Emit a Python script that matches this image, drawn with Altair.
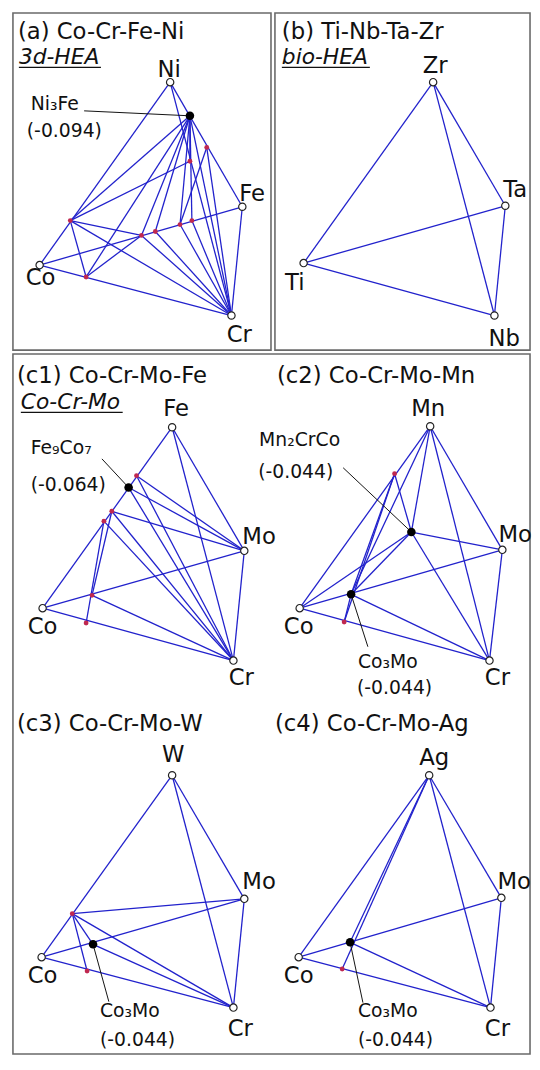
import altair as alt
import pandas as pd

# ---------------- node data (projected tetrahedron coordinates) ----------------
a_names = ["Ni", "Fe", "Co", "Cr", "NF", "R1", "R2", "R3", "R4", "R5", "R6", "R7", "R8"]
a_x = [172, 245, 40, 234, 192, 71, 87, 192, 209, 143, 157, 182, 194]
a_y = [77, 203, 262, 313, 111, 217, 274, 157, 143, 232, 228, 221, 217]
a_kind = ["v", "v", "v", "v", "b", "r", "r", "r", "r", "r", "r", "r", "r"]
a_edges = ["Ni-Co", "Co-Cr", "Cr-Fe", "Fe-Ni", "Ni-Cr", "Co-Fe",
           "NF-R1", "NF-R2", "NF-R5", "NF-R6", "NF-R7", "NF-R8", "NF-Cr", "NF-R3",
           "R1-R5", "R1-Cr", "R1-R2", "R1-R3", "R2-R5",
           "R5-Cr", "R6-Cr", "R7-Cr", "R8-Cr", "R4-R7", "R4-Cr"]

b_names = ["Zr", "Ta", "Ti", "Nb"]
b_x = [438, 511, 307, 500]
b_y = [77, 202, 260, 313]
b_kind = ["v", "v", "v", "v"]
b_edges = ["Zr-Ti", "Zr-Ta", "Zr-Nb", "Ta-Ti", "Ta-Nb", "Ti-Nb"]

c1_names = ["Fe", "Mo", "Co", "Cr", "F", "r1", "r2", "r3", "r4", "r5"]
c1_x = [174, 247, 43, 236, 130, 138, 113, 105, 93, 87]
c1_y = [426, 551, 609, 662, 487, 475, 511, 521, 596, 624]
c1_kind = ["v", "v", "v", "v", "b", "r", "r", "r", "r", "r"]
c1_edges = ["Fe-Co", "Fe-Mo", "Fe-Cr", "Co-Mo", "Co-Cr", "Mo-Cr",
            "r1-Mo", "r1-Cr", "F-Mo", "F-Cr", "r2-Mo", "r2-Cr", "r3-Cr",
            "r3-r5", "r2-r4", "r4-Cr"]

c2_names = ["Mn", "Mo", "Co", "Cr", "B1", "B2", "r1", "r2"]
c2_x = [435, 508, 303, 495, 416, 355, 399, 348]
c2_y = [425, 550, 609, 662, 532, 595, 473, 623]
c2_kind = ["v", "v", "v", "v", "b", "b", "r", "r"]
c2_edges = ["Mn-Co", "Mn-Mo", "Mn-Cr", "Mo-Cr", "Co-Mo", "Co-Cr",
            "Mn-B1", "Mn-B2", "r1-B1", "r1-B2", "r1-r2", "B1-Co", "B1-B2",
            "B1-Mo", "B1-Cr", "B2-Cr", "B2-r2"]

c3_names = ["W", "Mo", "Co", "Cr", "B", "r1", "r2"]
c3_x = [174, 247, 42, 236, 94, 73, 88]
c3_y = [778, 903, 962, 1013, 949, 918, 976]
c3_kind = ["v", "v", "v", "v", "b", "r", "r"]
c3_edges = ["W-Co", "W-Mo", "W-Cr", "Mo-Cr", "Co-Mo", "Co-Cr",
            "r1-Mo", "r1-Cr", "r1-r2", "r1-B", "B-Cr"]

c4_names = ["Ag", "Mo", "Co", "Cr", "B", "r"]
c4_x = [434, 507, 302, 496, 354, 346]
c4_y = [778, 902, 962, 1013, 947, 974]
c4_kind = ["v", "v", "v", "v", "b", "r"]
c4_edges = ["Ag-Co", "Ag-Mo", "Ag-Cr", "Mo-Cr", "Co-Mo", "Co-Cr",
            "Ag-B", "Ag-r", "B-Cr"]

# ---------------- text data ----------------
title_text = ["(a) Co-Cr-Fe-Ni", "(b) Ti-Nb-Ta-Zr", "(c1) Co-Cr-Mo-Fe",
              "(c2) Co-Cr-Mo-Mn", "(c3) Co-Cr-Mo-W", "(c4) Co-Cr-Mo-Ag"]
title_x = [18, 285, 17, 280, 17, 278]
title_y = [33, 33, 381, 381, 733, 733]

tag_text = ["3d-HEA", "bio-HEA", "Co-Cr-Mo"]
tag_x = [19, 285, 21]
tag_y = [59, 59, 408]
tag_w = [83, 89, 103]

vlab_text = ["Ni", "Fe", "Co", "Cr", "Zr", "Ta", "Ti", "Nb",
             "Fe", "Mo", "Co", "Cr", "Mn", "Mo", "Co", "Cr",
             "W", "Mo", "Co", "Cr", "Ag", "Mo", "Co", "Cr"]
vlab_x = [171, 255, 41, 242, 440, 521, 298, 510,
          178, 262, 43, 244, 433, 521, 302, 503,
          175, 262, 43, 243, 439, 520, 302, 503]
vlab_y = [72, 197, 282, 340, 68, 193, 287, 344,
          415, 544, 635, 687, 415, 542, 635, 687,
          765, 893, 988, 1042, 768, 893, 988, 1042]

cmp_text = ["Ni₃Fe", "(-0.094)", "Fe₉Co₇", "(-0.064)", "Mn₂CrCo", "(-0.044)",
            "Co₃Mo", "(-0.044)", "Co₃Mo", "(-0.044)", "Co₃Mo", "(-0.044)"]
cmp_x = [31, 27, 31, 31, 262, 261, 362, 361, 101, 101, 362, 362]
cmp_y = [105, 132, 453, 490, 445, 477, 670, 696, 1023, 1052, 1023, 1052]

# leader lines: label anchor -> phase point
lead_x = [85, 103, 347, 372, 110, 367]
lead_y = [106, 458, 467, 648, 1007, 1008]
lead_to = [("a", "NF"), ("c1", "F"), ("c2", "B1"), ("c2", "B2"), ("c3", "B"), ("c4", "B")]

# panel frames
frame_x = [13, 278, 13]
frame_x2 = [274, 536, 536]
frame_y = [7, 7, 352]
frame_y2 = [348, 348, 1060]

# ---------------- build tables ----------------
panels = {
    "a": (a_names, a_x, a_y, a_kind, a_edges),
    "b": (b_names, b_x, b_y, b_kind, b_edges),
    "c1": (c1_names, c1_x, c1_y, c1_kind, c1_edges),
    "c2": (c2_names, c2_x, c2_y, c2_kind, c2_edges),
    "c3": (c3_names, c3_x, c3_y, c3_kind, c3_edges),
    "c4": (c4_names, c4_x, c4_y, c4_kind, c4_edges),
}

node_rows, seg_rows = [], []
lookup = {}
for p, (nm, xs, ys, ks, es) in panels.items():
    for n, xx, yy, k in zip(nm, xs, ys, ks):
        node_rows.append({"panel": p, "name": n, "x": xx, "y": yy, "kind": k})
        lookup[(p, n)] = (xx, yy)
    for e in es:
        s, t = e.split("-")
        (x1, y1), (x2, y2) = lookup[(p, s)], lookup[(p, t)]
        seg_rows.append({"panel": p, "edge": e, "x": x1, "y": y1, "x2": x2, "y2": y2})

nodes = pd.DataFrame(node_rows)
segs = pd.DataFrame(seg_rows)

leads = pd.DataFrame({
    "x": lead_x, "y": lead_y,
    "x2": [lookup[k][0] for k in lead_to], "y2": [lookup[k][1] for k in lead_to],
})
titles = pd.DataFrame({"t": title_text, "x": title_x, "y": title_y})
tags = pd.DataFrame({"t": tag_text, "x": tag_x, "y": tag_y,
                     "x2": [a + b for a, b in zip(tag_x, tag_w)],
                     "yu": [v + 3 for v in tag_y]})
vlabs = pd.DataFrame({"t": vlab_text, "x": vlab_x, "y": vlab_y})
cmps = pd.DataFrame({"t": cmp_text, "x": cmp_x, "y": cmp_y})
frames = pd.DataFrame({"x": frame_x, "x2": frame_x2, "y": frame_y, "y2": frame_y2})

# ---------------- chart ----------------
W, H = 530, 1054
XS = alt.Scale(domain=[8, 8 + W], nice=False, zero=False)
YS = alt.Scale(domain=[8, 8 + H], nice=False, zero=False, reverse=True)
FONT = "DejaVu Sans"
BLUE = "#2222cc"


def X(f="x"):
    return alt.X(f"{f}:Q", scale=XS, axis=None)


def Y(f="y"):
    return alt.Y(f"{f}:Q", scale=YS, axis=None)


frame_layer = alt.Chart(frames).mark_rect(fillOpacity=0, stroke="#6a6a6a", strokeWidth=1.6).encode(
    x=X(), x2="x2:Q", y=Y(), y2="y2:Q")

tie_layer = alt.Chart(segs).mark_rule(color=BLUE, strokeWidth=1.3).encode(
    x=X(), y=Y(), x2="x2:Q", y2="y2:Q")

lead_layer = alt.Chart(leads).mark_rule(color="#111111", strokeWidth=1).encode(
    x=X(), y=Y(), x2="x2:Q", y2="y2:Q")

vert_layer = alt.Chart(nodes).transform_filter(alt.datum.kind == "v").mark_circle(
    fill="white", stroke="#222222", strokeWidth=1.2, opacity=1, size=55).encode(x=X(), y=Y())

red_layer = alt.Chart(nodes).transform_filter(alt.datum.kind == "r").mark_circle(
    color="#c02850", opacity=1, size=24).encode(x=X(), y=Y())

black_layer = alt.Chart(nodes).transform_filter(alt.datum.kind == "b").mark_circle(
    color="black", opacity=1, size=75).encode(x=X(), y=Y())

title_layer = alt.Chart(titles).mark_text(
    font=FONT, fontSize=23, align="left", baseline="alphabetic", color="#111111").encode(
    x=X(), y=Y(), text="t:N")

tag_layer = alt.Chart(tags).mark_text(
    font=FONT, fontSize=22, fontStyle="italic", align="left", baseline="alphabetic",
    color="#111111").encode(x=X(), y=Y(), text="t:N")

under_layer = alt.Chart(tags).mark_rule(color="#111111", strokeWidth=1.3).encode(
    x=X(), x2="x2:Q", y=Y("yu"))

vlab_layer = alt.Chart(vlabs).mark_text(
    font=FONT, fontSize=23, align="center", baseline="alphabetic", color="#111111").encode(
    x=X(), y=Y(), text="t:N")

cmp_layer = alt.Chart(cmps).mark_text(
    font=FONT, fontSize=19, align="left", baseline="alphabetic", color="#111111").encode(
    x=X(), y=Y(), text="t:N")

chart = alt.layer(
    frame_layer, tie_layer, lead_layer, vert_layer, red_layer, black_layer,
    title_layer, tag_layer, under_layer, vlab_layer, cmp_layer,
).properties(
    width=W, height=H, padding=0, autosize=alt.AutoSizeParams(type="none"),
    background="white",
).configure_view(stroke=None)

chart.save("out.html", embed_options={"renderer": "svg", "actions": False})
